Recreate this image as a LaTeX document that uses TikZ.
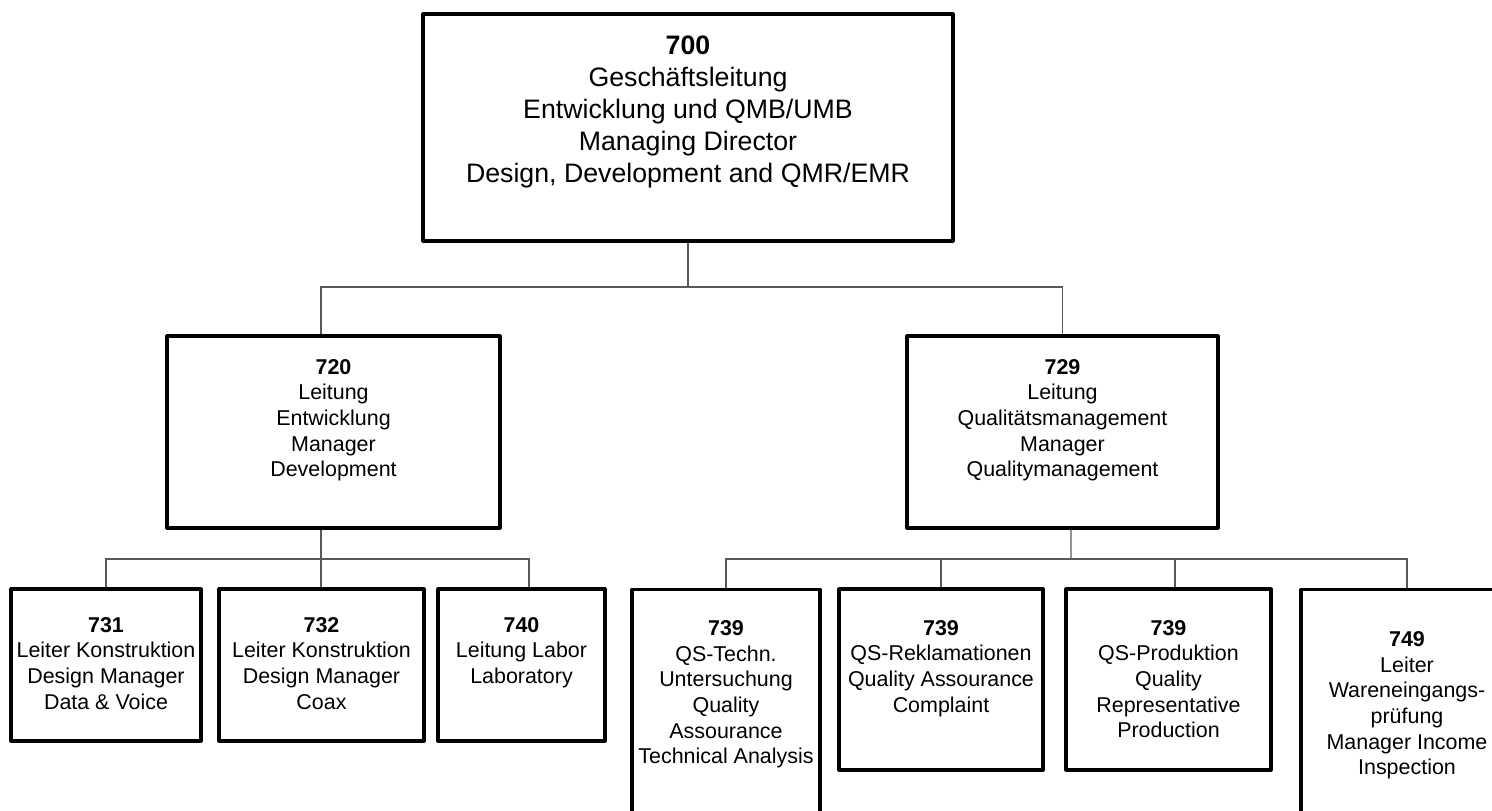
\documentclass[tikz,border=0pt]{standalone}
\usepackage{fontspec}
\setmainfont{Liberation Sans}
\usetikzlibrary{positioning}

\begin{document}
\begin{tikzpicture}[
        box/.style={rectangle, draw, line width=0.9pt, line join=round, inner sep=0pt},
        txt/.style={align=center, inner sep=0pt, font=\fontsize{6.1}{7.3}\selectfont},
        bigtxt/.style={align=center, inner sep=0pt, font=\fontsize{7.6}{9.1}\selectfont},
        conn/.style={draw=black!65, line width=0.35pt}
    ]
        \useasboundingbox (0,0) rectangle (14.92,-8.10);
        \clip (0,0) rectangle (14.92,-8.10);

        % Geschaeftsleitung
        \node[box, minimum width=5.30cm, minimum height=2.27cm] (b700) at (6.88,-1.275) {};
        \node[bigtxt, below=0.23cm of b700.north] (t700) {\textbf{700}\\Geschäftsleitung\\Entwicklung und QMB/UMB\\Managing Director\\Design, Development and QMR/EMR};

        % Leitungen
        \node[box, minimum width=3.33cm, minimum height=1.92cm] (b720) at (3.335,-4.32) {};
        \node[txt, below=0.24cm of b720.north] (t720) {\textbf{720}\\Leitung\\Entwicklung\\Manager\\Development};

        \node[box, minimum width=3.11cm, minimum height=1.92cm] (b729) at (10.625,-4.32) {};
        \node[txt, below=0.24cm of b729.north] (t729) {\textbf{729}\\Leitung\\Qualitätsmanagement\\Manager\\Qualitymanagement};

        % Entwicklung
        \node[box, minimum width=1.90cm, minimum height=1.52cm] (b731) at (1.06,-6.65) {};
        \node[txt, below=0.29cm of b731.north] (t731) {\textbf{731}\\Leiter Konstruktion\\Design Manager\\Data \& Voice};

        \node[box, minimum width=2.05cm, minimum height=1.52cm] (b732) at (3.215,-6.65) {};
        \node[txt, below=0.29cm of b732.north] (t732) {\textbf{732}\\Leiter Konstruktion\\Design Manager\\Coax};

        \node[box, minimum width=1.67cm, minimum height=1.52cm] (b740) at (5.215,-6.65) {};
        \node[txt, below=0.29cm of b740.north] (t740) {\textbf{740}\\Leitung Labor\\Laboratory};

        % Qualitaetsmanagement
        \node[box, minimum width=1.88cm, minimum height=2.41cm] (b739a) at (7.26,-7.10) {};
        \node[txt, below=0.32cm of b739a.north] (t739a) {\textbf{739}\\QS-Techn.\\Untersuchung\\Quality\\Assourance\\Technical Analysis};

        \node[box, minimum width=2.04cm, minimum height=1.81cm] (b739b) at (9.41,-6.795) {};
        \node[txt, below=0.32cm of b739b.north] (t739b) {\textbf{739}\\QS-Reklamationen\\Quality Assourance\\Complaint};

        \node[box, minimum width=2.05cm, minimum height=1.81cm] (b739c) at (11.685,-6.795) {};
        \node[txt, below=0.32cm of b739c.north] (t739c) {\textbf{739}\\QS-Produktion\\Quality\\Representative\\Production};

        \node[box, minimum width=2.12cm, minimum height=2.41cm] (b749) at (14.07,-7.10) {};
        \node[txt, below=0.43cm of b749.north] (t749) {\textbf{749}\\Leiter\\Wareneingangs-\\prüfung\\Manager Income\\Inspection};

        % Verbindungen
        \draw[conn] (b700.south) -- (6.88,-2.87) coordinate (bus0);
        \draw[conn] (bus0) -| ([xshift=-1.25mm]b720.north);
        \draw[conn] (bus0) -| (b729.north);

        \draw[conn] ([xshift=-1.25mm]b720.south) -- (3.21,-5.59) coordinate (bus1);
        \draw[conn] (bus1) -| (b731.north);
        \draw[conn] (bus1) -- (bus1 |- b732.north);
        \draw[conn] (bus1) -| ([xshift=0.75mm]b740.north);

        \draw[conn] ([xshift=0.85mm]b729.south) -- (10.71,-5.59) coordinate (bus2);
        \draw[conn] (bus2) -| (b739a.north);
        \draw[conn] (bus2) -| (b739b.north);
        \draw[conn] (bus2) -| ([xshift=0.65mm]b739c.north);
        \draw[conn] (bus2) -| (b749.north);
    \end{tikzpicture}
\end{document}
